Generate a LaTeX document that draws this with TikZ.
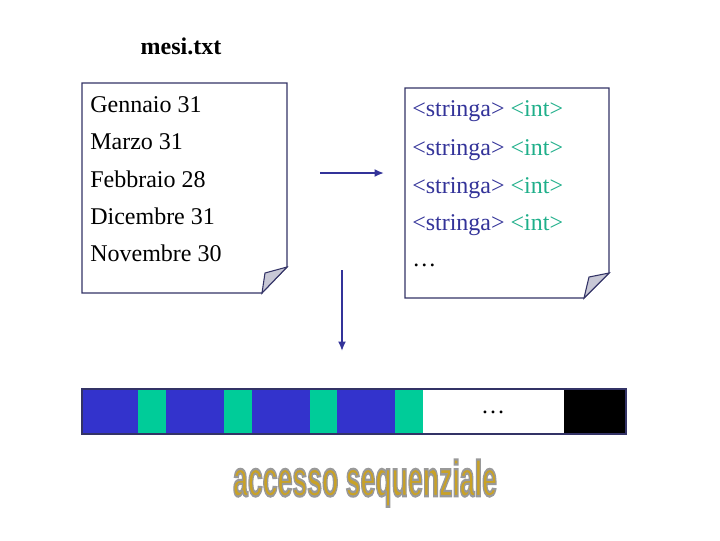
\documentclass[tikz,border=0pt]{standalone}
\usepackage{fontspec}
\setmainfont{Liberation Serif}
\newfontfamily\artfont{Liberation Sans}
\usepackage{tikz}
\usetikzlibrary{arrows.meta}

\definecolor{navy}{HTML}{333399}
\definecolor{outline}{HTML}{333366}
\definecolor{teal}{HTML}{1FAF8A}
\definecolor{barblue}{HTML}{3333CC}
\definecolor{bargreen}{HTML}{00CC99}
\definecolor{flap}{HTML}{C8C8D6}
\definecolor{gold}{HTML}{C9A227}

% gold letters with a grey rim
\newcommand{\arttext}[1]{\color{gold}\special{pdf:literal direct 2 Tr 0.9 w 0.6 0.6 0.6 RG}#1\special{pdf:literal direct 0 Tr}}

\begin{document}
\begin{tikzpicture}[x=0.75pt,y=-0.75pt,
        line/.style={anchor=base west,inner sep=0pt,font=\fontsize{18}{20}\selectfont},
        page/.style={draw=outline,line width=0.8pt,fill=white},
        fold/.style={draw=outline,line width=0.8pt,fill=flap},
        flow/.style={draw=navy,line width=1.5pt,-{Latex[length=7pt,width=6pt]}}]
    \useasboundingbox (0,0) rectangle (720,540);

    % file name
    \node[font=\bfseries\fontsize{18}{20}\selectfont] (name) at (181,46) {mesi.txt};

    % left page
    \draw[page] (82,83) -- (287,83) -- (287,267) -- (262,293) -- (82,293) -- cycle;
    \draw[fold] (287,267) -- (265,273) -- (262,293) -- cycle;
    \node[line] (l1) at (90,112) {Gennaio 31};
    \node[line] (l2) at (90,149) {Marzo 31};
    \node[line] (l3) at (90,187) {Febbraio 28};
    \node[line] (l4) at (90,224) {Dicembre 31};
    \node[line] (l5) at (90,261) {Novembre 30};

    % right page
    \draw[page] (405,88) -- (609,88) -- (609,273) -- (584,298) -- (405,298) -- cycle;
    \draw[fold] (609,273) -- (589,277) -- (584,298) -- cycle;
    \node[line] (r1) at (412,116) {\textcolor{navy}{<stringa>} \textcolor{teal}{<int>}};
    \node[line] (r2) at (412,155) {\textcolor{navy}{<stringa>} \textcolor{teal}{<int>}};
    \node[line] (r3) at (412,193) {\textcolor{navy}{<stringa>} \textcolor{teal}{<int>}};
    \node[line] (r4) at (412,230) {\textcolor{navy}{<stringa>} \textcolor{teal}{<int>}};
    \node[line] (r5) at (412,266) {\dots};

    % arrows
    \coordinate (hs) at (320,173);
    \coordinate (he) at (384,173);
    \draw[flow] (hs) -- (he);
    \coordinate (vs) at (342,270);
    \coordinate (ve) at (342,351);
    \draw[flow] (vs) -- (ve);

    % sequential bar
    \fill[barblue] (82,389) rectangle (138,434);
    \fill[bargreen] (138,389) rectangle (166,434);
    \fill[barblue] (166,389) rectangle (224,434);
    \fill[bargreen] (224,389) rectangle (252,434);
    \fill[barblue] (252,389) rectangle (310,434);
    \fill[bargreen] (310,389) rectangle (337,434);
    \fill[barblue] (337,389) rectangle (395,434);
    \fill[bargreen] (395,389) rectangle (423,434);
    \fill[black] (564,389) rectangle (626,434);
    \draw[outline,line width=0.8pt] (82,389) rectangle (626,434);
    \node[font=\fontsize{18}{20}\selectfont] (gap) at (493,412) {\dots};

    % title art
    \node[font=\artfont\bfseries\fontsize{20}{22}\selectfont,yscale=1.9] (art) at (365,483)
        {\arttext{accesso sequenziale}};
\end{tikzpicture}
\end{document}
